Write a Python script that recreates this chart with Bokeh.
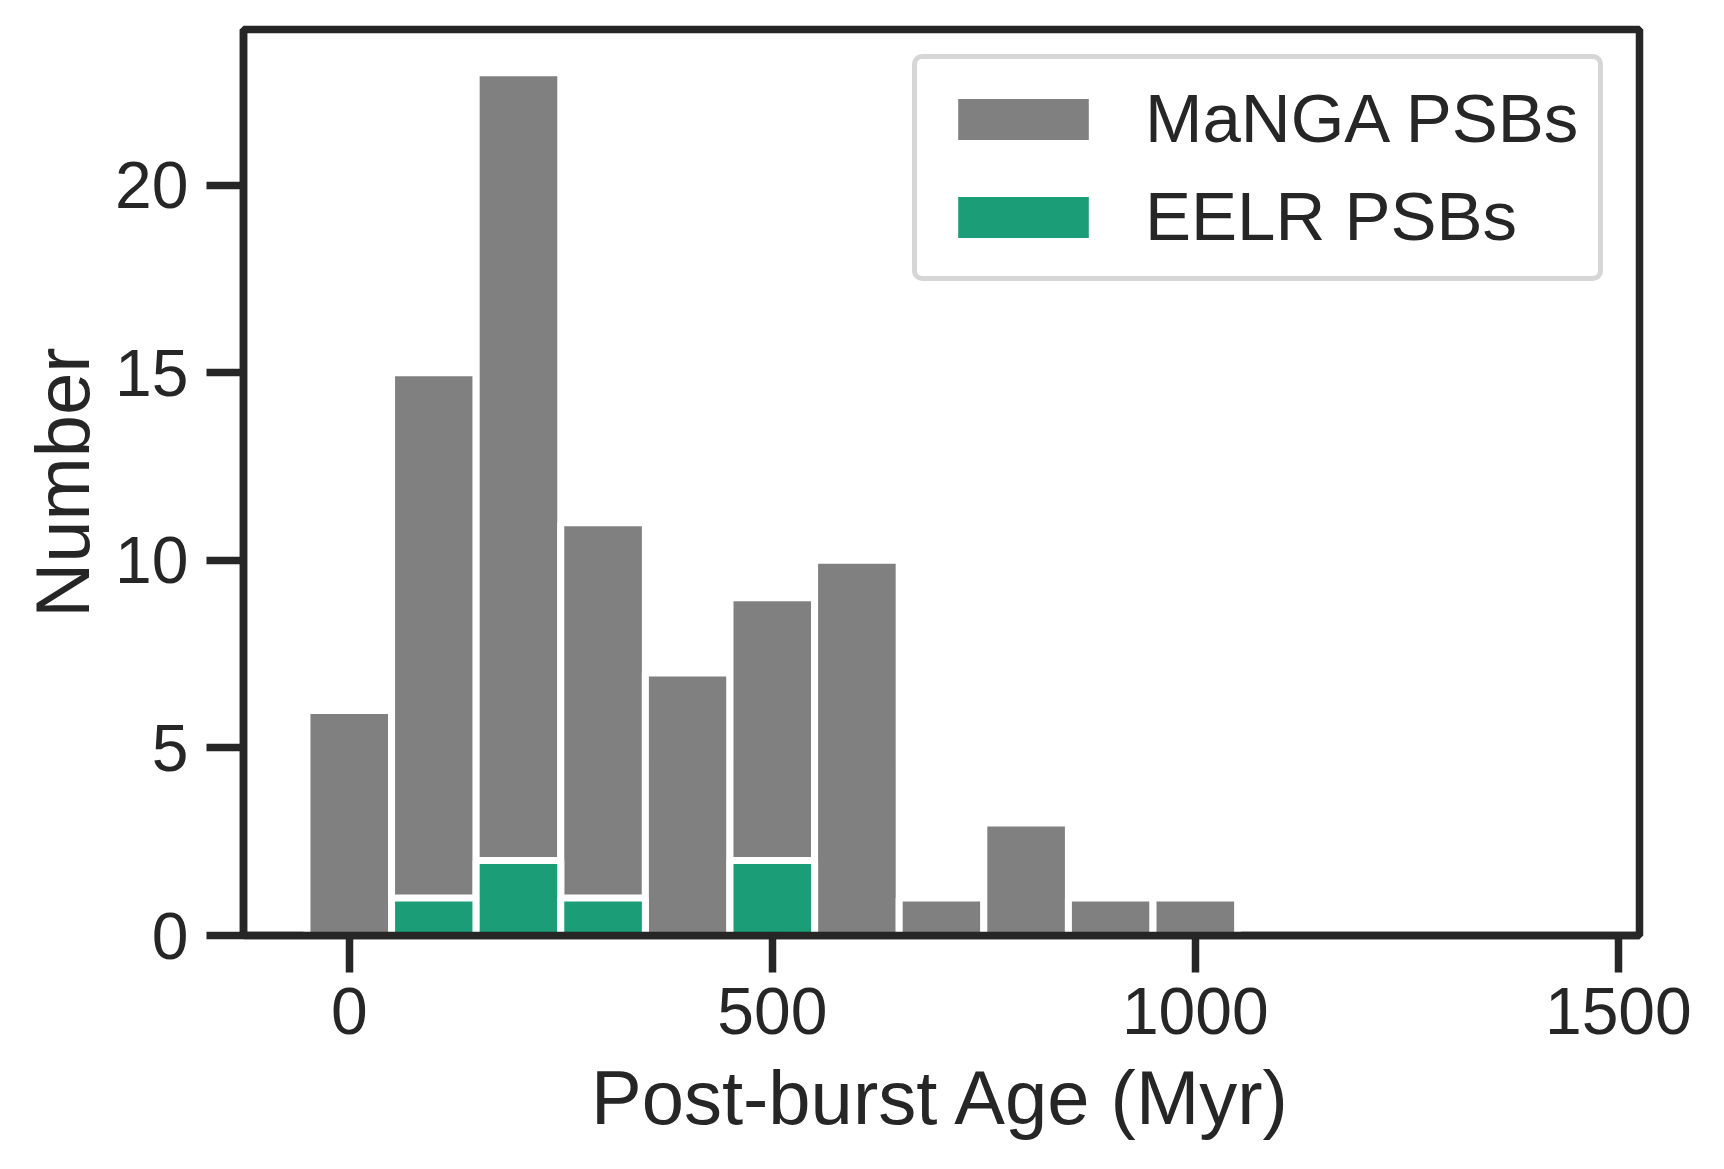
from bokeh.plotting import figure
from bokeh.models import Range1d, FixedTicker, Legend, LegendItem, ColumnDataSource
from bokeh.embed import file_html
from bokeh.resources import INLINE

# ---- data ----
bin_left = [-50, 50, 150, 250, 350, 450, 550, 650, 750, 850, 950]
bin_right = [50, 150, 250, 350, 450, 550, 650, 750, 850, 950, 1050]
manga_counts = [6, 15, 23, 11, 7, 9, 10, 1, 3, 1, 1]
eelr_counts = [0, 1, 2, 1, 0, 2, 0, 0, 0, 0, 0]
x_ticks = [0, 500, 1000, 1500]
y_ticks = [0, 5, 10, 15, 20]

TXT = "#262626"
FONT = "Liberation Sans"
LW = 7.5

p = figure(frame_width=1396, frame_height=906,
           min_border_left=243, min_border_right=60,
           min_border_top=29, min_border_bottom=200,
           x_range=Range1d(-125, 1525), y_range=Range1d(0, 24.15),
           output_backend="svg", toolbar_location=None,
           background_fill_color="white", border_fill_color="white")

p.xgrid.visible = False
p.ygrid.visible = False
p.outline_line_color = TXT
p.outline_line_width = LW

src_m = ColumnDataSource(dict(left=bin_left, right=bin_right,
                              top=manga_counts, bottom=[0] * len(manga_counts)))
idx = [i for i, v in enumerate(eelr_counts) if v > 0]
src_e = ColumnDataSource(dict(left=[bin_left[i] for i in idx],
                              right=[bin_right[i] for i in idx],
                              top=[eelr_counts[i] for i in idx],
                              bottom=[0] * len(idx)))

r_m = p.quad(left="left", right="right", top="top", bottom="bottom", source=src_m,
             fill_color="#808080", line_color="white", line_width=7)
r_e = p.quad(left="left", right="right", top="top", bottom="bottom", source=src_e,
             fill_color="#1b9e77", line_color="white", line_width=7)

for ax, ticks in ((p.xaxis, x_ticks), (p.yaxis, y_ticks)):
    ax.ticker = FixedTicker(ticks=ticks)
    ax.minor_tick_line_color = None
    ax.major_tick_in = 0
    ax.major_tick_line_width = LW
    ax.major_tick_line_color = TXT
    ax.axis_line_width = LW
    ax.axis_line_color = TXT
    ax.major_label_text_font = FONT
    ax.major_label_text_font_size = "66px"
    ax.major_label_text_color = TXT
    ax.axis_label_text_font = FONT
    ax.axis_label_text_font_size = "76px"
    ax.axis_label_text_font_style = "normal"
    ax.axis_label_text_color = TXT

p.xaxis.major_tick_out = 37
p.yaxis.major_tick_out = 37
p.xaxis.major_label_standoff = 15
p.yaxis.major_label_standoff = 18
p.xaxis.axis_label = "Post-burst Age (Myr)"
p.yaxis.axis_label = "Number"
p.xaxis.axis_label_standoff = 18
p.yaxis.axis_label_standoff = 7

legend = Legend(items=[LegendItem(label="MaNGA PSBs", renderers=[r_m]),
                       LegendItem(label="EELR PSBs", renderers=[r_e])],
                location=(669, 654))
legend.margin = 0
legend.padding = 20
legend.glyph_width = 172
legend.glyph_height = 60
legend.label_standoff = 36
legend.spacing = 19
legend.label_text_font = FONT
legend.label_text_font_size = "69px"
legend.label_text_color = TXT
legend.border_line_color = "#d6d6d6"
legend.border_line_alpha = 1.0
legend.border_line_width = 5
legend.background_fill_color = "white"
legend.background_fill_alpha = 0.8
try:
    legend.border_radius = 10
except Exception:
    pass
p.add_layout(legend)

open("out.html", "w").write(file_html(p, INLINE))
